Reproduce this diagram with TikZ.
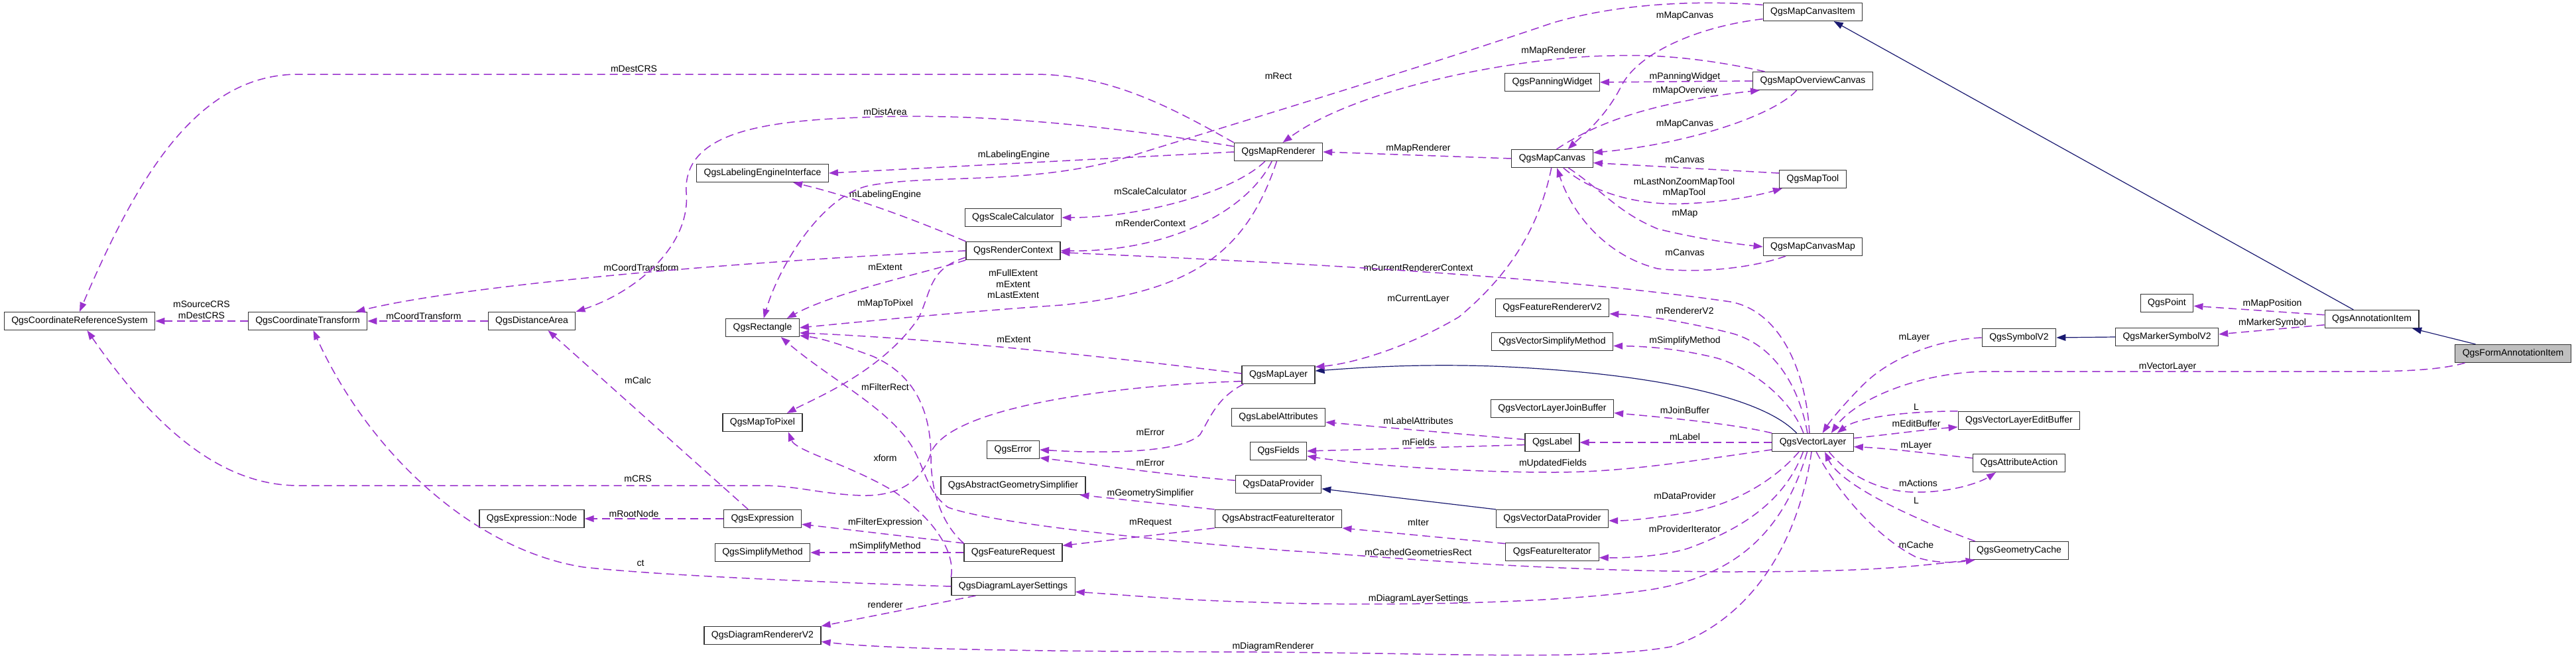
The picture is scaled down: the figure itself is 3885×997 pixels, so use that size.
\documentclass[tikz,border=0pt]{standalone}
\usepackage{fontspec}
\newfontfamily\dgfont{Liberation Sans}
\usetikzlibrary{arrows.meta}
\definecolor{usecol}{RGB}{154,50,205}
\definecolor{inhcol}{RGB}{25,25,112}
\newcommand{\dgtext}{\dgfont\fontsize{14}{16.5}\selectfont}

\begin{document}
\begin{tikzpicture}[x=1pt, y=-1pt,
  cls/.style={draw=black!80, fill=white, line width=1.2pt, font=\dgtext, minimum height=27pt, inner xsep=11pt, inner ysep=2pt},
  clshl/.style={cls, fill=black!25},
  lbl/.style={font=\dgtext, align=center, inner sep=0pt},
  use/.style={draw=usecol, line width=1.5pt, dash pattern=on 12pt off 7pt, -{Triangle[length=14pt,width=10pt]}},
  inh/.style={draw=inhcol, line width=1.2pt, -{Triangle[length=14pt,width=10pt]}}
]
\useasboundingbox (0,0) rectangle (3885,997);

% classes
\node[cls] (crs) at (120,484) {QgsCoordinateReferenceSystem};
\node[cls] (ct) at (464,484) {QgsCoordinateTransform};
\node[cls] (da) at (802,484) {QgsDistanceArea};
\node[cls] (exnode) at (802,782) {QgsExpression::Node};
\node[cls] (lei) at (1150,261) {QgsLabelingEngineInterface};
\node[cls] (rect) at (1150,494) {QgsRectangle};
\node[cls] (mtp) at (1150,637) {QgsMapToPixel};
\node[cls] (expr) at (1150,782) {QgsExpression};
\node[cls] (simp) at (1150,833) {QgsSimplifyMethod};
\node[cls] (drv) at (1150,958) {QgsDiagramRendererV2};
\node[cls] (sc) at (1528,328) {QgsScaleCalculator};
\node[cls] (rc) at (1528,378) {QgsRenderContext};
\node[cls] (err) at (1528,678) {QgsError};
\node[cls] (ags) at (1528,732) {QgsAbstractGeometrySimplifier};
\node[cls] (freq) at (1528,833) {QgsFeatureRequest};
\node[cls] (dls) at (1528,884) {QgsDiagramLayerSettings};
\node[cls] (mr) at (1928,229) {QgsMapRenderer};
\node[cls] (ml) at (1928,565) {QgsMapLayer};
\node[cls] (la) at (1928,629) {QgsLabelAttributes};
\node[cls] (fields) at (1928,680) {QgsFields};
\node[cls] (dp) at (1928,730) {QgsDataProvider};
\node[cls] (afi) at (1928,782) {QgsAbstractFeatureIterator};
\node[cls] (pw) at (2341,124) {QgsPanningWidget};
\node[cls] (mc) at (2341,239) {QgsMapCanvas};
\node[cls] (frv) at (2341,464) {QgsFeatureRendererV2};
\node[cls] (vsm) at (2341,515) {QgsVectorSimplifyMethod};
\node[cls] (jb) at (2341,616) {QgsVectorLayerJoinBuffer};
\node[cls] (qlabel) at (2341,667) {QgsLabel};
\node[cls] (vdp) at (2341,782) {QgsVectorDataProvider};
\node[cls] (fi) at (2341,832) {QgsFeatureIterator};
\node[cls] (mci) at (2734,18) {QgsMapCanvasItem};
\node[cls] (moc) at (2734,122) {QgsMapOverviewCanvas};
\node[cls] (mt) at (2734,270) {QgsMapTool};
\node[cls] (mcm) at (2734,372) {QgsMapCanvasMap};
\node[cls] (vl) at (2734,667) {QgsVectorLayer};
\node[cls] (sym) at (3045,509) {QgsSymbolV2};
\node[cls] (eb) at (3045,634) {QgsVectorLayerEditBuffer};
\node[cls] (aa) at (3045,698) {QgsAttributeAction};
\node[cls] (gc) at (3045,830) {QgsGeometryCache};
\node[cls] (pt) at (3268,457) {QgsPoint};
\node[cls] (msym) at (3268,508) {QgsMarkerSymbolV2};
\node[cls] (ai) at (3577,481) {QgsAnnotationItem};
\node[clshl] (fai) at (3790,533) {QgsFormAnnotationItem};

% member labels
\node[lbl] (tSrcDest) at (304,467) {mSourceCRS\\mDestCRS};
\node[lbl] (tCoordT1) at (639,476) {mCoordTransform};
\node[lbl] (tDestCRS) at (956,104) {mDestCRS};
\node[lbl] (tDistArea) at (1335,168) {mDistArea};
\node[lbl] (tLabEng1) at (1529,234) {mLabelingEngine};
\node[lbl] (tLabEng2) at (1335,294) {mLabelingEngine};
\node[lbl] (tScaleCalc) at (1735,288) {mScaleCalculator};
\node[lbl] (tRendCtx) at (1735,336) {mRenderContext};
\node[lbl] (tExtents) at (1528,428) {mFullExtent\\mExtent\\mLastExtent};
\node[lbl] (tExtent1) at (1335,403) {mExtent};
\node[lbl] (tCoordT2) at (967,403) {mCoordTransform};
\node[lbl] (tMapToPix) at (1335,458) {mMapToPixel};
\node[lbl] (tRect) at (1928,115) {mRect};
\node[lbl] (tCanvas1) at (2541,24) {mMapCanvas};
\node[lbl] (tMapRend1) at (2343,77) {mMapRenderer};
\node[lbl] (tPanning) at (2541,116) {mPanningWidget};
\node[lbl] (tOverview) at (2541,137) {mMapOverview};
\node[lbl] (tCanvas2) at (2541,187) {mMapCanvas};
\node[lbl] (tMapRend2) at (2139,224) {mMapRenderer};
\node[lbl] (tCanvas3) at (2541,241) {mCanvas};
\node[lbl] (tMapTool) at (2540,283) {mLastNonZoomMapTool\\mMapTool};
\node[lbl] (tMap) at (2541,322) {mMap};
\node[lbl] (tCanvas4) at (2541,381) {mCanvas};
\node[lbl] (tCurLayer) at (2139,451) {mCurrentLayer};
\node[lbl] (tCRS) at (962,722) {mCRS};
\node[lbl] (tExtent2) at (1529,512) {mExtent};
\node[lbl] (tError1) at (1735,652) {mError};
\node[lbl] (tError2) at (1735,698) {mError};
\node[lbl] (tLabAttr) at (2139,634) {mLabelAttributes};
\node[lbl] (tFields) at (2139,666) {mFields};
\node[lbl] (tUpdFields) at (2342,699) {mUpdatedFields};
\node[lbl] (tLabel) at (2541,658) {mLabel};
\node[lbl] (tJoin) at (2541,618) {mJoinBuffer};
\node[lbl] (tSimpl1) at (2541,514) {mSimplifyMethod};
\node[lbl] (tRendV2) at (2541,468) {mRendererV2};
\node[lbl] (tCurCtx) at (2139,403) {mCurrentRendererContext};
\node[lbl] (tLayer1) at (2887,509) {mLayer};
\node[lbl] (tMapPos) at (3427,458) {mMapPosition};
\node[lbl] (tMarker) at (3427,487) {mMarkerSymbol};
\node[lbl] (tVecLayer) at (3269,553) {mVectorLayer};
\node[lbl] (tL1) at (2890,614) {L};
\node[lbl] (tEditBuf) at (2890,638) {mEditBuffer};
\node[lbl] (tLayer2) at (2890,672) {mLayer};
\node[lbl] (tActions) at (2893,728) {mActions};
\node[lbl] (tL2) at (2890,755) {L};
\node[lbl] (tCache) at (2890,821) {mCache};
\node[lbl] (tDataProv) at (2541,747) {mDataProvider};
\node[lbl] (tProvIter) at (2541,797) {mProviderIterator};
\node[lbl] (tDiagSet) at (2139,903) {mDiagramLayerSettings};
\node[lbl] (tDiagRend) at (1920,975) {mDiagramRenderer};
\node[lbl] (tRootNode) at (956,774) {mRootNode};
\node[lbl] (tCalc) at (962,573) {mCalc};
\node[lbl] (tFilterExpr) at (1335,788) {mFilterExpression};
\node[lbl] (tSimpl2) at (1335,824) {mSimplifyMethod};
\node[lbl] (tGeomSimp) at (1735,744) {mGeometrySimplifier};
\node[lbl] (tRequest) at (1735,788) {mRequest};
\node[lbl] (tIter) at (2139,788) {mIter};
\node[lbl] (tCachedRect) at (2139,832) {mCachedGeometriesRect};
\node[lbl] (tRenderer) at (1335,911) {renderer};
\node[lbl] (tCt) at (966,849) {ct};
\node[lbl] (tXform) at (1335,690) {xform};
\node[lbl] (tFilterRect) at (1335,583) {mFilterRect};

% inheritance
\draw[inh] (vl.150) .. controls (2650,590) and (2450,560) .. (2250,552) .. controls (2130,548) and (2040,555) .. (ml.6);
\draw[inh] (vdp.north west) -- (dp.-6);
\draw[inh] (msym.west) -- (sym.east);
\draw[inh] (ai.153) -- (mci.-24);
\draw[inh] (fai.166) -- (ai.-13);

% usage
\draw[use] (ct.west) -- (crs.east);
\draw[use] (da.west) -- (ct.east);
\draw[use] (mr.north west) .. controls (1780,170) and (1680,112) .. (1560,112) -- (450,112) .. controls (300,112) and (210,260) .. (crs.north);
\draw[use] (mr.173) .. controls (1650,185) and (1450,170) .. (1300,177) .. controls (1150,182) and (1030,200) .. (1035,290) .. controls (1042,370) and (960,440) .. (da.north east);
\draw[use] (mr.west) -- (lei.east);
\draw[use] (rc.north west) .. controls (1400,340) and (1300,300) .. (lei.-17);
\draw[use] (mr.-145) .. controls (1860,290) and (1720,328) .. (sc.east);
\draw[use] (mr.-125) .. controls (1880,320) and (1760,380) .. (rc.east);
\draw[use] (mr.-100) .. controls (1880,380) and (1800,440) .. (1600,460) .. controls (1450,470) and (1300,485) .. (rect.east);
\draw[use] (rc.south west) .. controls (1400,410) and (1260,440) .. (rect.21);
\draw[use] (rc.west) .. controls (1100,395) and (700,430) .. (ct.11);
\draw[use] (rc.-172) .. controls (1400,405) and (1405,440) .. (1385,480) .. controls (1330,560) and (1230,600) .. (mtp.21);
\draw[use] (mci.172) .. controls (2560,0) and (2440,5) .. (2340,35) .. controls (2150,100) and (1850,190) .. (1700,237) .. controls (1560,280) and (1400,262) .. (1310,280) .. controls (1240,295) and (1175,400) .. (rect.83);
\draw[use] (mci.188) .. controls (2560,40) and (2470,80) .. (2445,130) .. controls (2420,180) and (2380,210) .. (mc.31);
\draw[use] (moc.169) .. controls (2560,85) and (2480,82) .. (2432,84) .. controls (2300,85) and (2050,130) .. (mr.65);
\draw[use] (moc.west) -- (pw.east);
\draw[use] (mc.65) .. controls (2400,190) and (2480,155) .. (moc.-170);
\draw[use] (moc.-150) .. controls (2680,170) and (2560,215) .. (mc.8);
\draw[use] (mc.west) -- (mr.east);
\draw[use] (mt.170) -- (mc.-6);
\draw[use] (mc.-40) .. controls (2400,290) and (2470,310) .. (2539,307) .. controls (2600,305) and (2650,295) .. (mt.-163);
\draw[use] (mc.-30) .. controls (2420,290) and (2440,320) .. (2500,345) .. controls (2560,360) and (2620,368) .. (mcm.west);
\draw[use] (mcm.-161) .. controls (2640,405) and (2560,412) .. (2500,405) .. controls (2420,385) and (2370,320) .. (mc.-63);
\draw[use] (mc.-95) .. controls (2320,350) and (2270,420) .. (2200,478) .. controls (2120,525) and (2040,548) .. (ml.12);
\draw[use] (ml.-170) .. controls (1700,580) and (1440,610) .. (1405,680) .. controls (1390,730) and (1350,748) .. (1300,747) .. controls (1240,745) and (1200,732) .. (1150,732) -- (450,732) .. controls (330,732) and (230,640) .. (crs.-51);
\draw[use] (ml.178) .. controls (1650,535) and (1400,510) .. (rect.-8);
\draw[use] (ml.-165) .. controls (1835,600) and (1825,630) .. (1810,655) .. controls (1780,685) and (1650,683) .. (err.east);
\draw[use] (dp.175) .. controls (1750,715) and (1650,700) .. (err.-17);
\draw[use] (qlabel.174) -- (la.-6);
\draw[use] (qlabel.-175) -- (fields.east);
\draw[use] (vl.-170) .. controls (2550,695) and (2450,712) .. (2342,712) .. controls (2200,712) and (2050,700) .. (fields.-10);
\draw[use] (vl.west) -- (qlabel.east);
\draw[use] (vl.north west) .. controls (2620,640) and (2520,630) .. (jb.-4);
\draw[use] (vl.135) .. controls (2700,600) and (2640,555) .. (2590,540) .. controls (2530,525) and (2480,522) .. (vsm.-4);
\draw[use] (vl.120) .. controls (2715,590) and (2680,520) .. (2610,502) .. controls (2530,482) and (2470,475) .. (frv.-6);
\draw[use] (vl.110) .. controls (2725,570) and (2690,470) .. (2610,455) .. controls (2300,410) and (1800,390) .. (rc.-2);
\draw[use] (sym.west) .. controls (2920,512) and (2850,540) .. (2810,580) .. controls (2780,610) and (2760,635) .. (vl.44);
\draw[use] (ai.175) -- (pt.-6);
\draw[use] (ai.-173) -- (msym.3);
\draw[use] (fai.-169) .. controls (3680,558) and (3620,560) .. (3560,560) -- (3000,560) .. controls (2900,560) and (2800,600) .. (vl.27);
\draw[use] (eb.north west) .. controls (2870,620) and (2800,630) .. (vl.21);
\draw[use] (vl.6) .. controls (2850,655) and (2900,648) .. (eb.-174);
\draw[use] (aa.174) .. controls (2920,685) and (2850,676) .. (vl.-6);
\draw[use] (vl.-30) .. controls (2790,720) and (2840,742) .. (2890,742) .. controls (2950,742) and (2990,725) .. (aa.-158);
\draw[use] (gc.168) .. controls (2880,780) and (2775,730) .. (vl.-38);
\draw[use] (vl.-70) .. controls (2770,740) and (2830,810) .. (2890,840) .. controls (2920,850) and (2950,848) .. (gc.-168);
\draw[use] (gc.south west) .. controls (2850,860) and (2750,862) .. (2600,862) .. controls (2300,860) and (2100,840) .. (1940,830) .. controls (1750,815) and (1500,790) .. (1430,765) .. controls (1395,740) and (1395,700) .. (1370,665) .. controls (1330,610) and (1250,570) .. (rect.-27);
\draw[use] (vl.-146) .. controls (2680,720) and (2620,760) .. (2545,773) .. controls (2500,780) and (2460,785) .. (vdp.-2);
\draw[use] (vl.-136) .. controls (2690,760) and (2620,800) .. (2545,827) .. controls (2500,840) and (2450,841) .. (fi.-7);
\draw[use] (vl.-121) .. controls (2690,800) and (2620,870) .. (2482,890) .. controls (2300,915) and (2000,912) .. (1900,908) .. controls (1780,905) and (1700,897) .. (dls.-5);
\draw[use] (vl.-98) .. controls (2712,820) and (2640,935) .. (2520,975) .. controls (2400,996) and (2200,985) .. (1900,983) .. controls (1600,982) and (1350,980) .. (drv.-6);
\draw[use] (expr.west) -- (exnode.east);
\draw[use] (expr.147) -- (da.-30);
\draw[use] (freq.north west) -- (expr.-8);
\draw[use] (freq.west) -- (simp.east);
\draw[use] (afi.north west) -- (ags.-8);
\draw[use] (afi.south west) -- (freq.8);
\draw[use] (fi.170) -- (afi.south east);
\draw[use] (dls.-166) -- (drv.north east);
\draw[use] (dls.west) .. controls (1250,878) and (1000,868) .. (880,855) .. controls (720,830) and (560,690) .. (ct.-59);
\draw[use] (dls.north west) .. controls (1440,840) and (1420,790) .. (1347,740) .. controls (1280,700) and (1200,680) .. (mtp.-20);
\draw[use] (freq.north west) .. controls (1420,790) and (1404,740) .. (1404,690) .. controls (1404,620) and (1380,565) .. (1316,537) .. controls (1270,520) and (1240,510) .. (rect.-12);
\end{tikzpicture}
\end{document}
